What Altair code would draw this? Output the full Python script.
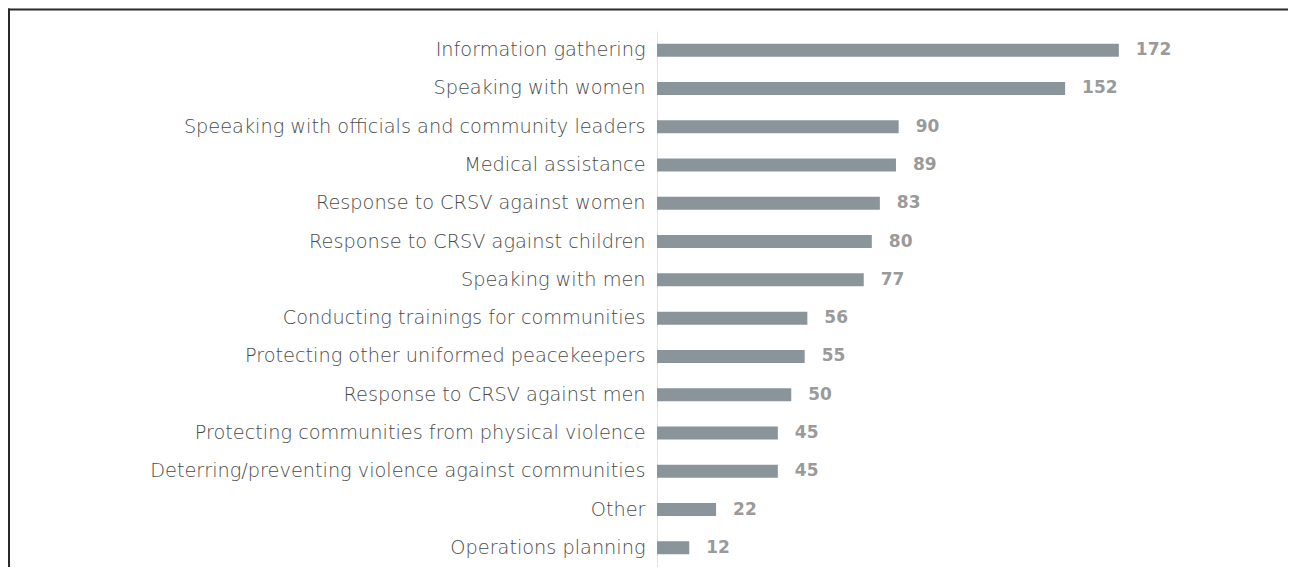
import altair as alt
import pandas as pd

categories = [
    "Information gathering",
    "Speaking with women",
    "Speeaking with officials and community leaders",
    "Medical assistance",
    "Response to CRSV against women",
    "Response to CRSV against children",
    "Speaking with men",
    "Conducting trainings for communities",
    "Protecting other uniformed peacekeepers",
    "Response to CRSV against men",
    "Protecting communities from physical violence",
    "Deterring/preventing violence against communities",
    "Other",
    "Operations planning",
]
values = [172, 152, 90, 89, 83, 80, 77, 56, 55, 50, 45, 45, 22, 12]

df = pd.DataFrame({"activity": categories, "count": values})

W, H = 537, 536
PAD_L, PAD_T = 649, 23

y_enc = alt.Y(
    "activity:N",
    sort=categories,
    scale=alt.Scale(paddingInner=0.66, paddingOuter=0.33),
    axis=alt.Axis(
        title=None,
        domain=True,
        domainColor="#e2e2e2",
        domainWidth=1,
        ticks=False,
        labelFont="DejaVu Sans",
        labelFontWeight=200,
        labelFontSize=19.3,
        labelColor="#4a4a4a",
        labelPadding=12,
        labelLimit=800,
    ),
)
x_enc = alt.X("count:Q", scale=alt.Scale(domain=[0, 200]), axis=None)

base = alt.Chart(df)
bars = base.mark_bar(color="#8a949b").encode(x=x_enc, y=y_enc)
labels = base.mark_text(
    align="left", baseline="middle", dx=17,
    font="DejaVu Sans", fontWeight="bold", fontSize=17, color="#9a9a9a",
).encode(x=x_enc, y=y_enc, text="count:Q")

frame_df = pd.DataFrame({"k": [0]})
top_border = alt.Chart(frame_df).mark_rule(color="#2a2a2a", strokeWidth=2).encode(
    x=alt.value(-PAD_L), x2=alt.value(W + 94), y=alt.value(-21.5)
)
left_border = alt.Chart(frame_df).mark_rule(color="#2a2a2a", strokeWidth=2).encode(
    x=alt.value(-PAD_L + 1), y=alt.value(-22.5), y2=alt.value(H + 10)
)

chart = alt.layer(bars, labels, top_border, left_border).properties(
    width=W,
    height=H,
    autosize=alt.AutoSizeParams(type="none"),
    padding={"left": PAD_L, "top": PAD_T, "right": 94, "bottom": 0},
    background="white",
).configure_view(stroke=None)

chart.save("out.html", embed_options={"renderer": "svg", "actions": False})
